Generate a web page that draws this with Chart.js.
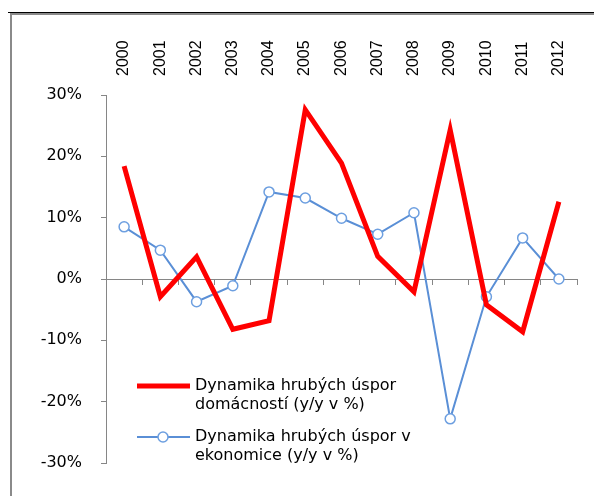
<!DOCTYPE html>
<html>
<head>
<meta charset="utf-8">
<script src="https://cdn.jsdelivr.net/npm/chart.js@4.4.1/dist/chart.umd.min.js"></script>
<style>
  html, body { margin: 0; padding: 0; background: #fff; }
  #wrap { width: 594px; height: 496px; }
</style>
</head>
<body>
<div id="wrap"><canvas id="chart"></canvas></div>
<script>
const years = ['2000', '2001', '2002', '2003', '2004', '2005', '2006', '2007', '2008', '2009', '2010', '2011', '2012'];
// dynamika hrubych uspor domacnosti (y/y v %)
const households = [18.4, -2.9, 3.6, -8.2, -6.8, 27.6, 18.9, 3.7, -2.1, 24.3, -4.2, -8.6, 12.6];
// dynamika hrubych uspor v ekonomice (y/y v %)
const economy = [8.5, 4.7, -3.7, -1.1, 14.2, 13.2, 9.9, 7.3, 10.8, -22.8, -2.9, 6.7, 0.0];
const seriesNames = [
    ['Dynamika hrubých úspor', 'domácností (y/y v %)'],
    ['Dynamika hrubých úspor v', 'ekonomice (y/y v %)']
];
const yMin = -30, yMax = 30, yStep = 10;

// ramecek (oriznuty okraj grafu z Excelu)
const framePlugin = {
    id: 'frame',
    beforeDraw(chart) {
        const c = chart.ctx;
        c.save();
        c.fillStyle = '#fff';
        c.fillRect(0, 0, chart.width, chart.height);
        c.fillStyle = '#000';
        c.fillRect(8, 12, chart.width - 8, 1);
        c.fillStyle = '#8a8a8a';
        c.fillRect(10, 13, chart.width - 10, 2);
        c.fillRect(10, 13, 2, chart.height - 13);
        c.restore();
    }
};

// legenda uvnitr grafu, dvouradkove popisky
const insideLegend = {
    id: 'insideLegend',
    afterDraw(chart) {
        const c = chart.ctx;
        c.save();
        chart.data.datasets.forEach((ds, i) => {
            const y = 386 + i * 51;
            c.strokeStyle = ds.borderColor;
            c.lineWidth = ds.borderWidth;
            c.beginPath();
            c.moveTo(137, y);
            c.lineTo(190, y);
            c.stroke();
            if (ds.pointRadius > 0) {
                c.beginPath();
                c.arc(163, y, ds.pointRadius, 0, Math.PI * 2);
                c.fillStyle = ds.pointBackgroundColor;
                c.fill();
                c.lineWidth = ds.pointBorderWidth;
                c.strokeStyle = ds.pointBorderColor;
                c.stroke();
            }
            c.fillStyle = '#000';
            c.font = '16px "DejaVu Sans"';
            c.textBaseline = 'middle';
            c.textAlign = 'left';
            seriesNames[i].forEach((line, j) => c.fillText(line, 195, y + j * 19));
        });
        c.restore();
    }
};

new Chart(document.getElementById('chart').getContext('2d'), {
    type: 'line',
    data: {
        labels: years,
        datasets: [
            {
                label: seriesNames[0].join(' '),
                data: households,
                borderColor: '#ff0000',
                borderWidth: 5,
                borderJoinStyle: 'miter',
                pointRadius: 0,
                tension: 0
            },
            {
                label: seriesNames[1].join(' '),
                data: economy,
                borderColor: '#5a8fd6',
                borderWidth: 2,
                pointRadius: 5,
                pointBackgroundColor: '#fff',
                pointBorderColor: '#6d9fe0',
                pointBorderWidth: 1.5,
                tension: 0
            }
        ]
    },
    options: {
        responsive: true,
        maintainAspectRatio: false,
        animation: false,
        layout: {
            padding: { left: 0, right: 17, top: 0, bottom: 33 }
        },
        plugins: {
            legend: { display: false },
            tooltip: {
                callbacks: {
                    label: function(item) {
                        return item.dataset.label + ': ' + item.raw + '%';
                    }
                }
            }
        },
        scales: {
            x: {
                position: 'top',
                offset: true,
                grid: { display: false, drawTicks: false },
                border: { display: false },
                ticks: {
                    autoSkip: false,
                    minRotation: 90,
                    maxRotation: 90,
                    padding: 19,
                    labelOffset: 19,
                    color: '#000',
                    font: { family: 'Liberation Sans', size: 16 }
                },
                afterFit: function(scale) { scale.height = 95; }
            },
            x0: {
                type: 'category',
                position: { y: 0 },
                offset: true,
                grid: { offset: true, drawOnChartArea: false, color: '#868686', tickLength: 5 },
                border: { color: '#868686' },
                ticks: { display: false }
            },
            y: {
                min: yMin,
                max: yMax,
                ticks: {
                    stepSize: yStep,
                    padding: 19,
                    color: '#000',
                    font: { family: 'DejaVu Sans', size: 16 },
                    callback: v => v + '%'
                },
                grid: { drawOnChartArea: false, color: '#868686', tickLength: 5 },
                border: { color: '#868686' },
                afterFit: function(scale) { scale.width = 106; }
            }
        }
    },
    plugins: [framePlugin, insideLegend]
});
</script>
</body>
</html>
